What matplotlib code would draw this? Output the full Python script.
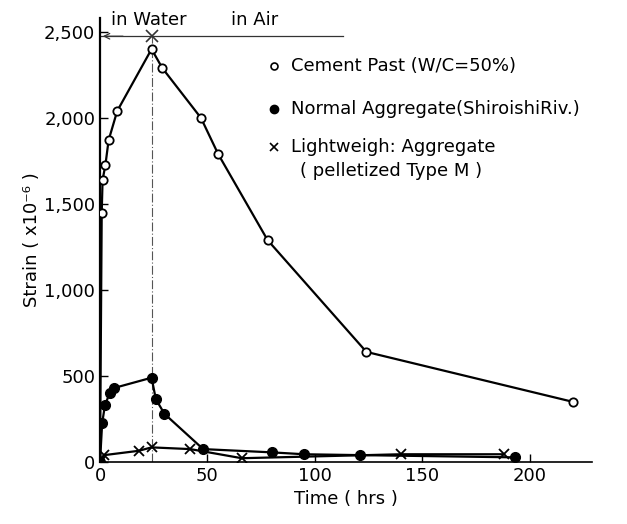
import matplotlib
matplotlib.use("Agg")
import matplotlib.pyplot as plt
from matplotlib.ticker import FuncFormatter

# Cement paste (W/C=50%)
cement_t = [0, 0.8, 1.2, 2.5, 4, 8, 24, 29, 47, 55, 78, 124, 220]
cement_s = [0, 1450, 1640, 1725, 1870, 2040, 2400, 2290, 2000, 1790, 1290, 640, 350]

# Normal aggregate (Shiroishi Riv.)
normal_t = [0, 1, 2.3, 4.5, 6.5, 24, 26, 30, 48, 80, 95, 121, 193]
normal_s = [0, 225, 330, 400, 430, 490, 365, 280, 75, 56, 45, 40, 27]

# Lightweight aggregate (pelletized Type M)
light_t = [0, 2, 18, 24, 42, 66, 140, 188]
light_s = [0, 40, 65, 85, 75, 22, 45, 45]

boundary_t = 24
boundary_s = 2475

fig = plt.figure(figsize=(6.27, 5.24), dpi=100)
ax = fig.add_axes([100/627, 1-462/524, 492/627, 444/524])

ax.plot(cement_t, cement_s, color="black", lw=1.6, marker="o", ms=6,
        mfc="white", mec="black", mew=1.3, zorder=3)
ax.plot(normal_t, normal_s, color="black", lw=1.6, marker="o", ms=7,
        mfc="black", mec="black", zorder=3)
ax.plot(light_t, light_s, color="black", lw=1.6, marker="x", ms=7,
        mew=1.3, zorder=3)

# boundary between water and air
ax.plot([boundary_t, boundary_t], [0, boundary_s], color="#555555", lw=0.8,
        ls=(0, (8, 2, 1, 2)), zorder=1)
ax.plot([0, 113], [boundary_s, boundary_s], color="#333333", lw=0.9, zorder=2)
ax.annotate("", xy=(0, boundary_s), xytext=(12, boundary_s),
            arrowprops=dict(arrowstyle="->", color="#333333", lw=0.9))
ax.plot([boundary_t], [boundary_s], marker="x", ms=9, mew=1.2, color="#333333")
ax.text(22.5, 2515, "in Water", ha="center", va="bottom", fontsize=13)
ax.text(72, 2515, "in Air", ha="center", va="bottom", fontsize=13)

ax.set_xlim(0, 229)
ax.set_ylim(0, 2581)
ax.set_xticks([0, 50, 100, 150, 200])
ax.set_yticks([0, 500, 1000, 1500, 2000, 2500])
ax.yaxis.set_major_formatter(FuncFormatter(lambda v, p: f"{int(v):,}"))
ax.tick_params(direction="in", labelsize=13, length=6, width=1)
for s in ["top", "right"]:
    ax.spines[s].set_visible(False)
ax.spines["left"].set_linewidth(1.6)
ax.spines["bottom"].set_linewidth(1.2)

ax.set_xlabel("Time ( hrs )", fontsize=13, labelpad=4)
ax.set_ylabel("Strain ( x10⁻⁶ )", fontsize=13, labelpad=2)

# legend
ax.plot([81], [2300], marker="o", ms=5, mfc="white", mec="black", mew=1.2, clip_on=False)
ax.text(89, 2300, "Cement Past (W/C=50%)", va="center", fontsize=13)
ax.plot([81], [2050], marker="o", ms=6, mfc="black", mec="black", clip_on=False)
ax.text(89, 2050, "Normal Aggregate(ShiroishiRiv.)", va="center", fontsize=13)
ax.plot([81], [1830], marker="x", ms=6, mew=1.2, color="black", clip_on=False)
ax.text(89, 1830, "Lightweigh: Aggregate", va="center", fontsize=13)
ax.text(93, 1690, "( pelletized Type M )", va="center", fontsize=13)

fig.savefig("out.png", dpi=100)
